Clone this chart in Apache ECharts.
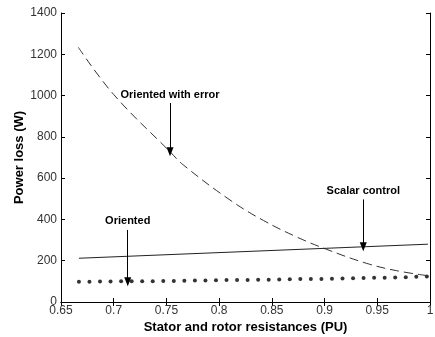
<!DOCTYPE html>
<html><head><meta charset="utf-8">
<script src="https://cdn.jsdelivr.net/npm/echarts@6/dist/echarts.min.js"></script>
<style>html,body{margin:0;padding:0;background:#fff}#c{width:435px;height:337px}</style>
</head><body><div id="c"></div>
<script>
// Oriented with error (dashed): [resistance, loss]
const errX = [0.6664, 0.7, 0.7534, 0.766, 0.8103, 0.842, 0.8736, 0.902, 0.940, 0.968, 0.997];
const errY = [1234, 1005, 728, 664, 494, 395, 315, 255, 187, 152, 128];
// Scalar control (solid)
const scalarX = [0.667, 0.998];
const scalarY = [212, 280];
// Oriented (dots)
const orientStart = 0.667, orientStep = 0.01;
const orientY = [98, 98, 99, 99, 100, 100, 101, 101, 102, 102, 103, 104, 104, 105, 106, 106, 107,
  108, 108, 109, 110, 111, 112, 112, 113, 114, 115, 116, 117, 118, 119, 120, 122, 124];
// Annotations: label, x, arrow start y, arrow tip y
const annLabels = ['Oriented with error', 'Oriented', 'Scalar control'];
const annX = [0.7534, 0.7133, 0.9367];
const annFromY = [964, 349, 497];
const annToY = [728, 98, 268];
const xTicks = { min: 0.65, max: 1, interval: 0.05 };
const yTicks = { min: 0, max: 1400, interval: 200 };

const font = 'Liberation Sans, Arial, sans-serif';
const chart = echarts.init(document.getElementById('c'));
const zip = (a, b) => a.map((v, i) => [v, b[i]]);
const orientData = orientY.map((v, i) => [orientStart + i * orientStep, v]);

const axisCommon = {
  axisLine: { show: true, lineStyle: { color: '#000', width: 1 } },
  axisTick: { show: true, inside: true, length: 4, lineStyle: { color: '#000' } },
  splitLine: { show: false }
};

chart.setOption({
  animation: false,
  backgroundColor: '#fff',
  grid: { left: 61, right: 5, top: 13, bottom: 35, containLabel: false, outerBoundsMode: 'none' },
  xAxis: [
    Object.assign({}, axisCommon, {
      type: 'value', min: xTicks.min, max: xTicks.max, interval: xTicks.interval, position: 'bottom',
      name: 'Stator and rotor resistances (PU)', nameLocation: 'middle', nameGap: 19, nameMoveOverlap: false,
      nameTextStyle: { fontFamily: font, fontWeight: 'bold', fontSize: 13, color: '#000' },
      axisLabel: { fontFamily: font, fontSize: 12, color: '#333', margin: 3,
        formatter: v => String(parseFloat(v.toFixed(2))) }
    }),
    Object.assign({}, axisCommon, {
      type: 'value', min: xTicks.min, max: xTicks.max, interval: xTicks.interval, position: 'top',
      axisLabel: { show: false }
    })
  ],
  yAxis: [
    Object.assign({}, axisCommon, {
      type: 'value', min: yTicks.min, max: yTicks.max, interval: yTicks.interval, position: 'left',
      name: 'Power loss (W)', nameLocation: 'middle', nameGap: 35, nameRotate: 90, nameMoveOverlap: false,
      nameTextStyle: { fontFamily: font, fontWeight: 'bold', fontSize: 13, color: '#000' },
      axisLabel: { fontFamily: font, fontSize: 12, color: '#333', margin: 4,
        formatter: v => String(v) }
    }),
    Object.assign({}, axisCommon, {
      type: 'value', min: yTicks.min, max: yTicks.max, interval: yTicks.interval, position: 'right',
      axisLabel: { show: false }
    })
  ],
  series: [
    {
      type: 'line', name: 'Oriented with error', data: zip(errX, errY), smooth: 0.4,
      showSymbol: false, symbol: 'none',
      lineStyle: { color: '#333', width: 1, type: [9, 5] }
    },
    {
      type: 'line', name: 'Scalar control', data: zip(scalarX, scalarY),
      showSymbol: false, symbol: 'none',
      lineStyle: { color: '#222', width: 1 }
    },
    {
      type: 'scatter', name: 'Oriented', data: orientData, symbolSize: 4,
      itemStyle: { color: '#000' }
    },
    {
      type: 'line', name: 'annotations', data: [],
      markLine: {
        silent: true, symbol: ['none', 'triangle'], symbolSize: [7, 9], symbolRotate: 180,
        lineStyle: { color: '#000', width: 1, type: 'solid' },
        label: { show: true, position: 'start', distance: 3, fontFamily: font, fontWeight: 'bold',
          fontSize: 11, color: '#000', formatter: p => p.name },
        data: annLabels.map((t, i) => [
          { name: t, coord: [annX[i], annFromY[i]] },
          { coord: [annX[i], annToY[i]] }
        ])
      }
    }
  ]
});
</script></body></html>
